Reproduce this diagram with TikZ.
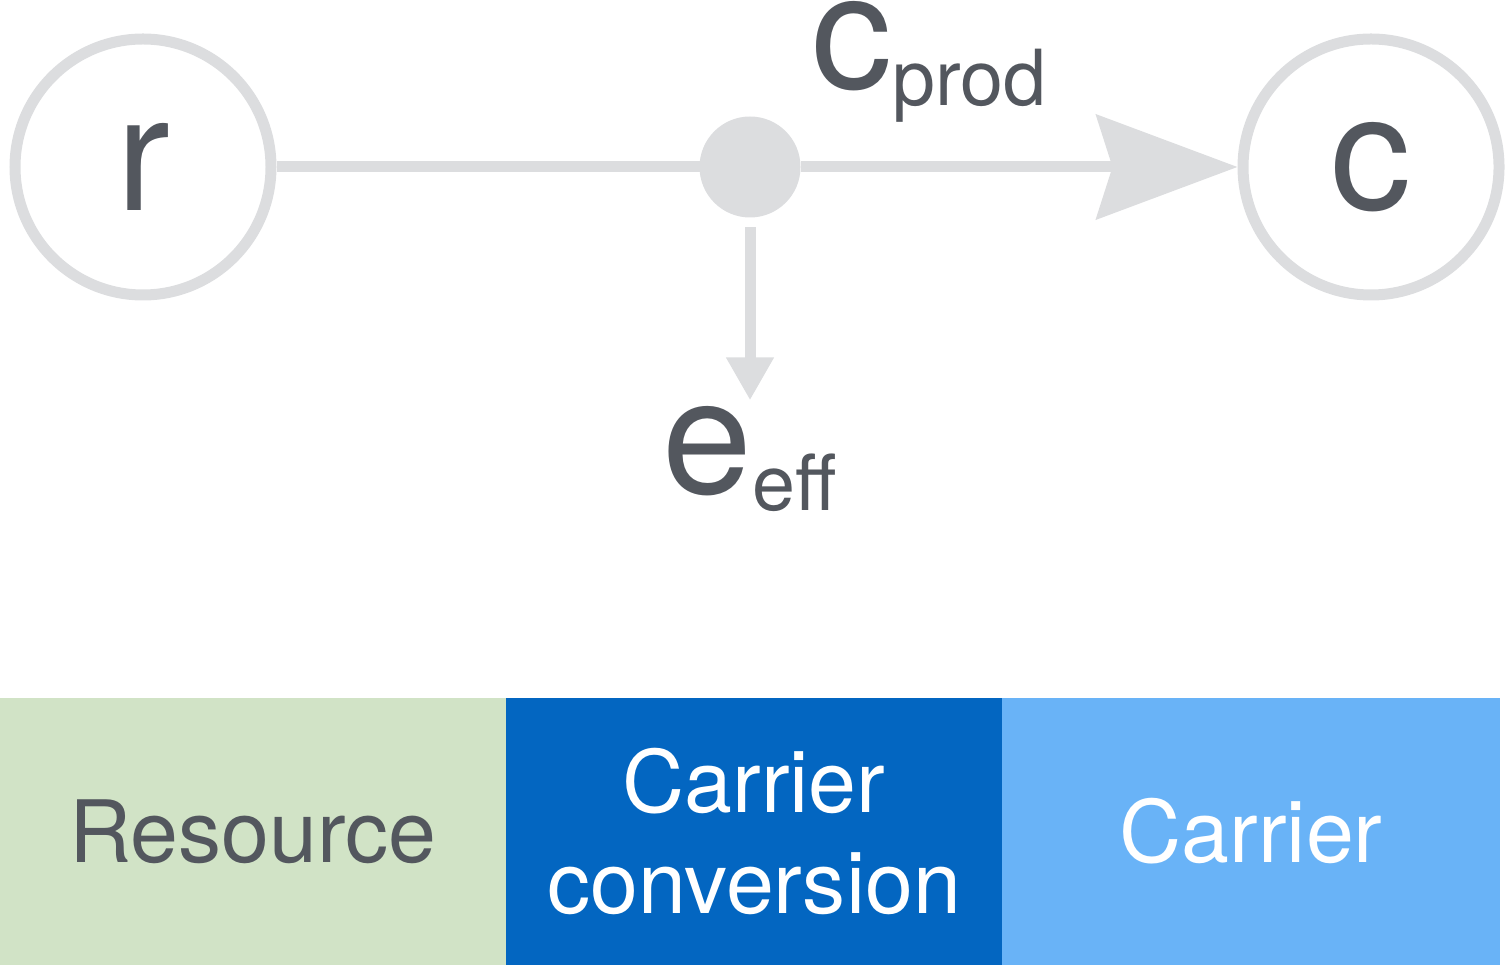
\documentclass[tikz,border=0pt]{standalone}
\usepackage{fontspec}
\setmainfont{TeX Gyre Heros}
\usetikzlibrary{arrows.meta, positioning}
\definecolor{cline}{HTML}{DCDDDF}
\definecolor{ctext}{HTML}{53575E}
\definecolor{cres}{HTML}{D1E3C6}
\definecolor{cconv}{HTML}{0366C1}
\definecolor{ccar}{HTML}{69B3F7}
\newcommand{\lowsub}[1]{\raisebox{-0.17cm}{\fontsize{22}{24}\selectfont #1}}
\tikzset{
  every picture/.style={line width=0.11cm},
  term/.style={circle, draw=cline, minimum size=2.56cm, inner sep=0pt, text=ctext, font=\fontsize{46}{50}\selectfont},
  hub/.style={circle, fill=cline, minimum size=1.01cm, inner sep=0pt, outer sep=0pt},
  flow/.style={draw=cline, line width=0.11cm},
  lbl/.style={text=ctext, inner sep=0pt, font=\fontsize{46}{50}\selectfont},
  band/.style={minimum height=2.67cm, minimum width=#1, inner sep=0pt, outer sep=0pt, align=center, font=\fontsize{24.5}{28.7}\selectfont},
}

\begin{document}
\begin{tikzpicture}
  \useasboundingbox (0,0) rectangle (15.05,-9.65);
  \node[term] (r) at (1.43,-1.67) {r};
  \node[term] (c) at (13.71,-1.67) {c};
  \node[hub] (hub) at (7.50,-1.67) {};
  \node[lbl, anchor=base west] (cprod) at (8.06,-0.89) {c\lowsub{prod}};
  \node[lbl, anchor=base west] (eeff) at (6.57,-4.93) {e\lowsub{eff}};
  \draw[flow] (r) -- (hub);
  \draw[flow, -{Stealth[length=1.41cm, width=1.04cm, inset=0.16cm]}] (hub) -- (c);
  \draw[flow, -{Triangle[length=0.43cm, width=0.45cm]}, shorten <=0.1cm] (hub) -- (hub |- eeff.north);
  % bands along the bottom
  \node[band=5.06cm, fill=cres, text=ctext, anchor=north west] (res) at (0,-6.98) {Resource};
  \node[band=4.96cm, fill=cconv, text=white, right=0pt of res] (conv) {Carrier\\conversion};
  \node[band=4.98cm, fill=ccar, text=white, right=0pt of conv] (car) {Carrier};
\end{tikzpicture}
\end{document}
